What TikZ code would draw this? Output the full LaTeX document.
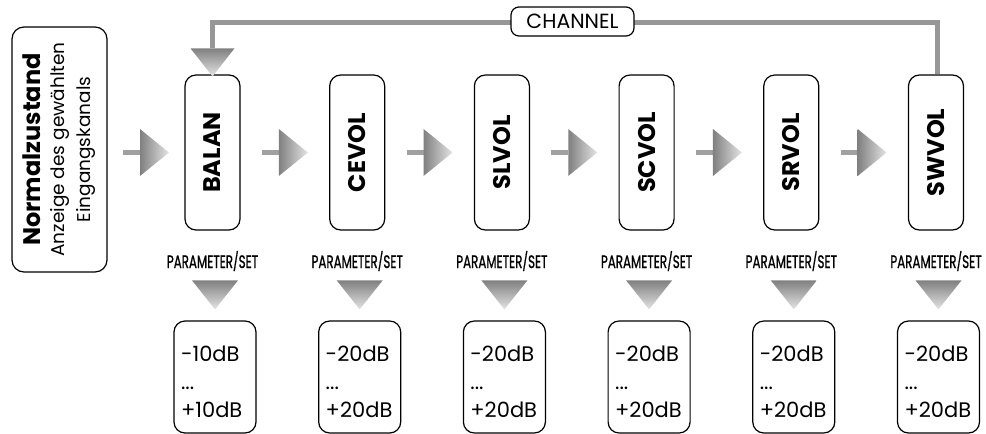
\documentclass[tikz,border=0pt]{standalone}
\usepackage{fontspec}
\setmainfont{Poppins}
\newfontfamily\paramfont{Poppins}[FakeBold=1.2]
\usepackage{graphicx}
\usetikzlibrary{calc}
\definecolor{stemgray}{HTML}{A0A0A0}
\definecolor{headdark}{HTML}{808080}
\definecolor{headlight}{HTML}{E4E4E4}
\definecolor{linegray}{HTML}{979797}
\newcommand\hflow[2]{%
  \coordinate (tmpa) at ($(#1.east)!0.5!(#2.west)$);
  \coordinate (tmpm) at (tmpa |- #2.west);
  \fill[stemgray] ($(tmpm)+(-23,-2.5)$) rectangle ($(tmpm)+(-6,2.5)$);
  \shade[left color=headdark, right color=headlight]
    ($(tmpm)+(-6,-23.5)$) -- ($(tmpm)+(23,0)$) -- ($(tmpm)+(-6,23.5)$) -- cycle;
}
\newcommand\vflow[2]{%
  \shade[top color=headdark, bottom color=headlight]
    ($(#2.north)+(-23,-40)$) -- ($(#2.north)+(23,-40)$) -- ($(#2.north)+(0,-11)$) -- cycle;
}
\newcommand\topstrut{\rule{0pt}{26pt}}
\begin{document}
\begin{tikzpicture}[x=1pt,y=-1pt,
  startbox/.style={draw, line width=1.2pt, rounded corners=12pt, minimum width=95pt, minimum height=245pt, inner sep=0pt},
  modebox/.style={draw, line width=1.2pt, rounded corners=11pt, minimum width=55pt, minimum height=155pt, inner sep=0pt, font=\fontsize{24}{24}\selectfont\bfseries},
  valbox/.style={draw, line width=1.2pt, rounded corners=11pt, minimum width=82pt, minimum height=112pt, text width=68pt, align=left, inner sep=0pt, font=\fontsize{21}{28}\selectfont},
  paramlbl/.style={inner sep=0pt, anchor=base, font=\fontsize{18}{18}\paramfont},
  chanbox/.style={draw, fill=white, line width=1.2pt, rounded corners=8pt, minimum width=123pt, minimum height=29pt, inner sep=0pt, font=\fontsize{20.5}{20.5}\selectfont},
]
\useasboundingbox (0,0) rectangle (986,434);

\node[startbox] (norm) at (59.5,149.5) {\rotatebox{90}{\fontsize{18.5}{21}\selectfont\begin{tabular}{@{}c@{}}{\fontsize{24}{24}\selectfont\bfseries Normalzustand}\\[3pt] Anzeige des gewählten\\[5pt] Eingangskanals\end{tabular}}};

\node[modebox] (m1) at (212.5,152.5) {\rotatebox{90}{BALAN}};
\node[modebox] (m2) at (357.2,152.5) {\rotatebox{90}{CEVOL}};
\node[modebox] (m3) at (501.9,152.5) {\rotatebox{90}{SLVOL}};
\node[modebox] (m4) at (646.6,152.5) {\rotatebox{90}{SCVOL}};
\node[modebox] (m5) at (791.3,152.5) {\rotatebox{90}{SRVOL}};
\node[modebox] (m6) at (936,152.5) {\rotatebox{90}{SWVOL}};

\node[paramlbl] (p1) at (212.5,268) {\scalebox{0.66}[1]{PARAMETER/SET}};
\node[paramlbl] (p2) at (357.2,268) {\scalebox{0.66}[1]{PARAMETER/SET}};
\node[paramlbl] (p3) at (501.9,268) {\scalebox{0.66}[1]{PARAMETER/SET}};
\node[paramlbl] (p4) at (646.6,268) {\scalebox{0.66}[1]{PARAMETER/SET}};
\node[paramlbl] (p5) at (791.3,268) {\scalebox{0.66}[1]{PARAMETER/SET}};
\node[paramlbl] (p6) at (936,268) {\scalebox{0.66}[1]{PARAMETER/SET}};

\node[valbox] (v1) at (215,377) {\topstrut-10dB\\...\\+10dB};
\node[valbox] (v2) at (359.7,377) {\topstrut-20dB\\...\\+20dB};
\node[valbox] (v3) at (504.4,377) {\topstrut-20dB\\...\\+20dB};
\node[valbox] (v4) at (649.1,377) {\topstrut-20dB\\...\\+20dB};
\node[valbox] (v5) at (793.8,377) {\topstrut-20dB\\...\\+20dB};
\node[valbox] (v6) at (938.5,377) {\topstrut-20dB\\...\\+20dB};

\hflow{norm}{m1}
\hflow{m1}{m2}
\hflow{m2}{m3}
\hflow{m3}{m4}
\hflow{m4}{m5}
\hflow{m5}{m6}

\vflow{m1}{v1}
\vflow{m2}{v2}
\vflow{m3}{v3}
\vflow{m4}{v4}
\vflow{m5}{v5}
\vflow{m6}{v6}

\draw[linegray, line width=5pt] ($(m6.north)+(1.5,0)$) -- ($(m6.north |- 0,22)+(1.5,0)$) -- (m1.north |- 0,22) -- ($(m1.north)+(0,-26)$);
\shade[top color=headdark, bottom color=headlight]
  ($(m1.north)+(-22,-26)$) -- ($(m1.north)+(22,-26)$) -- ($(m1.north)+(0,2)$) -- cycle;
\node[chanbox] (chan) at (572.5,21.5) {CHANNEL};
\end{tikzpicture}
\end{document}
